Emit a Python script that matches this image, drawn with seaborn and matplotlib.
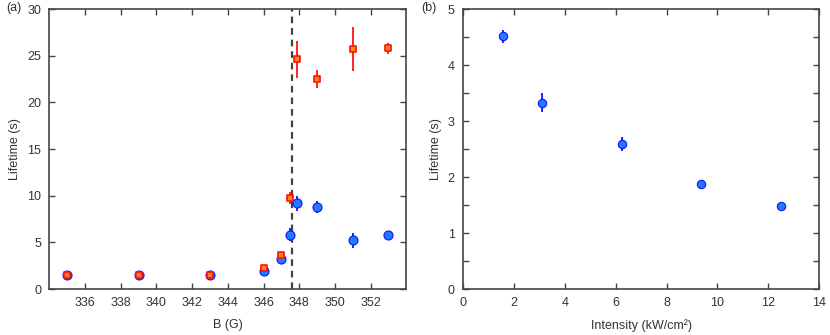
import numpy as np
import pandas as pd
import matplotlib.pyplot as plt
import seaborn as sns

# panel (a): lifetime vs magnetic field
b_field = [335, 339, 343, 346, 347, 347.5, 347.9, 349, 351, 353]
blue_life = [1.5, 1.55, 1.5, 1.95, 3.2, 5.8, 9.2, 8.8, 5.25, 5.8]
blue_err = [0.1, 0.1, 0.1, 0.2, 0.2, 0.7, 0.8, 0.6, 0.8, 0.3]
red_life = [1.5, 1.5, 1.5, 2.25, 3.65, 9.75, 24.6, 22.5, 25.7, 25.8]
red_err = [0.1, 0.1, 0.1, 0.2, 0.2, 0.6, 2.0, 1.0, 2.35, 0.6]
b_res = 347.6

# panel (b): lifetime vs intensity
intensity = [1.56, 3.12, 6.24, 9.36, 12.48]
int_life = [4.51, 3.33, 2.59, 1.87, 1.49]
int_err = [0.11, 0.17, 0.12, 0.03, 0.03]

df_a = pd.DataFrame({'B': b_field, 'blue': blue_life, 'blue_err': blue_err,
                     'red': red_life, 'red_err': red_err})
df_b = pd.DataFrame({'I': intensity, 'tau': int_life, 'err': int_err})

sns.set_style('ticks')
plt.rcParams['font.family'] = ['Liberation Sans', 'DejaVu Sans']

GRAY = '#444444'
BLUE_FILL = '#1f7bff'
BLUE_EDGE = '#1010ff'
RED_EDGE = '#ff1010'

fig = plt.figure(figsize=(8.3, 3.35), dpi=100)
ax1 = fig.add_axes([0.0595, 0.137, 0.430, 0.836])
ax2 = fig.add_axes([0.558, 0.137, 0.429, 0.836])

# (a)
ax1.axvline(b_res, color='#444444', ls=(0, (3, 2.2)), lw=1.6, zorder=1)
ax1.errorbar(df_a['B'], df_a['blue'], yerr=df_a['blue_err'], fmt='none',
             ecolor=BLUE_EDGE, elinewidth=1.3, capsize=0, zorder=2)
sns.scatterplot(data=df_a, x='B', y='blue', ax=ax1, marker='o', s=42,
                color=BLUE_FILL, edgecolor=BLUE_EDGE, linewidth=0.8, zorder=3)
ax1.errorbar(df_a['B'], df_a['red'], yerr=df_a['red_err'], fmt='none',
             ecolor=RED_EDGE, elinewidth=1.3, capsize=0, zorder=4)
sns.scatterplot(data=df_a, x='B', y='red', ax=ax1, marker='s', s=14,
                color='#ff8a10', edgecolor=RED_EDGE, linewidth=1.2, zorder=5)
ax1.set_xlim(334, 354)
ax1.set_ylim(0, 30)
ax1.set_xticks(np.arange(336, 353, 2))
ax1.set_yticks(np.arange(0, 31, 5))
ax1.set_xlabel('B (G)', labelpad=7)
ax1.set_ylabel('Lifetime (s)', labelpad=4)

# (b)
ax2.errorbar(df_b['I'], df_b['tau'], yerr=df_b['err'], fmt='none',
             ecolor=BLUE_EDGE, elinewidth=1.3, capsize=0, zorder=2)
sns.scatterplot(data=df_b, x='I', y='tau', ax=ax2, marker='o', s=36,
                color=BLUE_FILL, edgecolor=BLUE_EDGE, linewidth=0.8, zorder=3)
ax2.set_xlim(0, 14)
ax2.set_ylim(0, 5)
ax2.set_xticks(np.arange(0, 15, 2))
ax2.set_yticks(np.arange(0, 6, 1))
ax2.set_yticks(np.arange(0, 5.01, 0.5), minor=True)
ax2.set_xlabel('Intensity (kW/cm²)', labelpad=7)
ax2.set_ylabel('Lifetime (s)', labelpad=4)

for ax in (ax1, ax2):
    for sp in ax.spines.values():
        sp.set_visible(True)
        sp.set_color(GRAY)
        sp.set_linewidth(1.2)
    ax.tick_params(which='both', direction='in', top=True, right=True,
                   length=4, width=1, color=GRAY, labelcolor='#333333',
                   labelsize=9, pad=6)
    ax.xaxis.label.set_color('#333333')
    ax.yaxis.label.set_color('#333333')
    ax.xaxis.label.set_size(9)
    ax.yaxis.label.set_size(9)

fig.text(0.007, 0.975, '(a)', fontsize=9, color='#333333', va='center')
fig.text(0.508, 0.975, '(b)', fontsize=9, color='#333333', va='center')

fig.savefig('out.png', dpi=100)
